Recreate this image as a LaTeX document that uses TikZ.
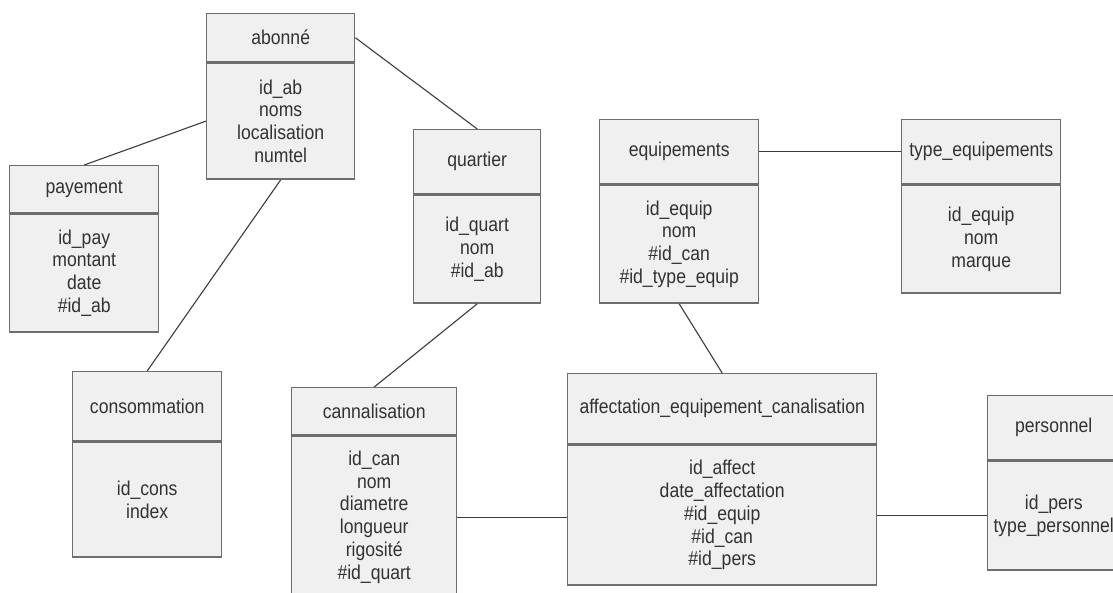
\documentclass[tikz,border=0pt]{standalone}
\usepackage{fontspec}
\setmainfont{Liberation Sans}[FakeStretch=0.88]
\definecolor{boxc}{RGB}{240,240,240}
\definecolor{bordc}{RGB}{110,110,110}
\definecolor{txtc}{RGB}{50,50,50}
\definecolor{linec}{RGB}{60,60,60}
\tikzset{
  ent/.style={draw=bordc, fill=boxc, line width=1.4pt, inner sep=0pt, anchor=north west,
    align=center, text=txtc, font=\fontsize{20}{22.8}\selectfont},
  conn/.style={draw=linec, line width=1.1pt},
}
\newcommand\entbox[8]{%
  \node[ent, minimum width=#4pt, minimum height=#5pt] (#1) at (#2,#3) {#7};
  \node[ent, minimum width=#4pt, minimum height=#6pt, anchor=north] (#1b) at (#1.south) {#8};
}
\begin{document}
\begin{tikzpicture}[x=1pt, y=-1pt]
\clip (0,0) rectangle (1113,592);
\fill[white] (0,0) rectangle (1113,592);
\entbox{ab}{206}{13}{148}{48}{116}{abonné}{id\_ab\\noms\\localisation\\numtel}
\entbox{pay}{9}{165}{149}{47}{118}{payement}{id\_pay\\montant\\date\\\#id\_ab}
\entbox{cons}{72}{371}{149}{69}{115}{consommation}{id\_cons\\index}
\entbox{qu}{413}{129}{127}{64}{108}{quartier}{id\_quart\\nom\\\#id\_ab}
\entbox{can}{291}{387}{165}{47}{162}{cannalisation}{id\_can\\nom\\diametre\\longueur\\rigosité\\\#id\_quart}
\entbox{eq}{599}{119}{159}{64}{118}{equipements}{id\_equip\\nom\\\#id\_can\\\#id\_type\_equip}
\entbox{ty}{901}{119}{159}{64}{108}{type\_equipements}{id\_equip\\nom\\marque}
\entbox{af}{567}{373}{309}{70}{140}{affectation\_equipement\_canalisation}{id\_affect\\date\_affectation\\\#id\_equip\\\#id\_can\\\#id\_pers}
\entbox{pe}{987}{395}{132}{64}{109}{personnel}{id\_pers\\type\_personnel}
\draw[conn] (abb.west) -- (pay.north);
\draw[conn] (abb.south) -- (cons.north);
\draw[conn] (ab.east) -- (qu.north);
\draw[conn] (qub.south) -- (can.north);
\draw[conn] (eq.east) -- (ty.west);
\draw[conn] (eqb.south) -- (af.north);
\draw[conn] (canb.east) -- (canb.east -| afb.west);
\draw[conn] (afb.east) -- (afb.east -| peb.west);
\end{tikzpicture}
\end{document}
